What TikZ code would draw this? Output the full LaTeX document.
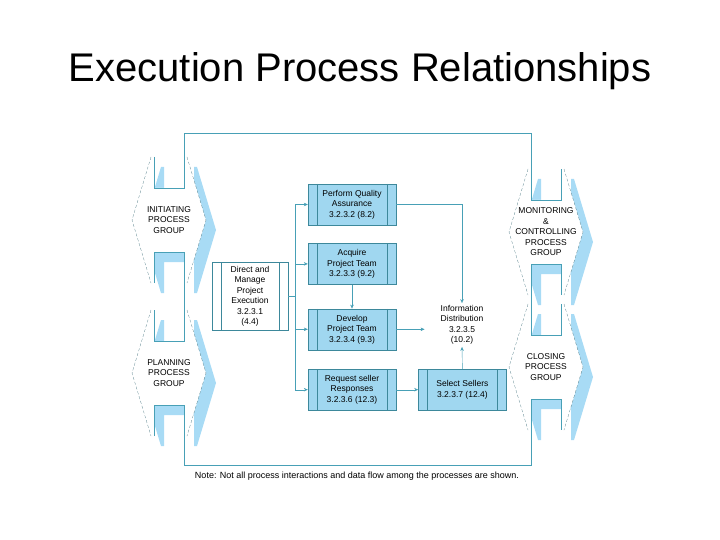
\documentclass[tikz,border=0pt]{standalone}
\usepackage{fontspec}
\setmainfont{Liberation Sans}
\usetikzlibrary{arrows.meta, positioning, calc}

\definecolor{linecol}{RGB}{72,160,182}
\definecolor{boxfill}{RGB}{160,215,240}
\definecolor{shadowblue}{RGB}{168,219,245}

% outline of a process group (hexagon with a notch at top and bottom)
\newcommand{\grouppath}{(-37,0) -- (-18,-63) -- (-15,-63) -- (-15,-32) -- (15,-32) -- (15,-63)
  -- (18,-63) -- (37,0) -- (18,63) -- (15,63) -- (15,32) -- (-15,32) -- (-15,63) -- (-18,63) -- cycle}

\tikzset{
  pics/pgroup/.style={code={
      \fill[shadowblue, shift={(10,10)}] \grouppath;
      \fill[white] \grouppath;
      \draw[linecol!60!black, densely dashed, very thin] (-18,-63) -- (-37,0) -- (-18,63)
        (18,-63) -- (37,0) -- (18,63);
      \draw[linecol] (-15,-63) -- (-15,-32) -- (15,-32) -- (15,-63)
        (-15,63) -- (-15,32) -- (15,32) -- (15,63);
      \coordinate (-tl) at (-15,-32);
      \coordinate (-tr) at (15,-32);
      \coordinate (-bl) at (-15,32);
      \coordinate (-br) at (15,32);
      \node[grouptext] (-txt) {#1};
    }},
  grouptext/.style={font=\fontsize{8.5}{10.5}\selectfont, align=center, inner sep=0pt},
  procbox/.style={draw=linecol!85!black, fill=boxfill, minimum width=88pt, minimum height=41pt,
    inner sep=1pt, align=center, font=\fontsize{8.5}{10.5}\selectfont,
    path picture={
      \draw[linecol!85!black] ([xshift=9pt]path picture bounding box.north west)
        -- ([xshift=9pt]path picture bounding box.south west);
      \draw[linecol!85!black] ([xshift=-9pt]path picture bounding box.north east)
        -- ([xshift=-9pt]path picture bounding box.south east);
    }},
  frame/.style={draw=linecol, thin},
  arr/.style={draw=linecol, thin, -{Stealth[length=4pt, width=3.5pt]}}
}

\begin{document}
\begin{tikzpicture}[x=1pt, y=-1pt]
  \useasboundingbox (0,0) rectangle (720,540);

  \node[anchor=base, font=\fontsize{40}{48}\selectfont] (title) at (360,82) {Execution Process Relationships};

  % process groups
  \pic (ini) at (169,220) {pgroup={INITIATING\\PROCESS\\GROUP}};
  \pic (pln) at (169,373) {pgroup={PLANNING\\PROCESS\\GROUP}};
  \pic (mon) at (546,232) {pgroup={MONITORING\\\&\\CONTROLLING\\PROCESS\\GROUP}};
  \pic (clo) at (546,367) {pgroup={CLOSING\\PROCESS\\GROUP}};

  % frame through the groups
  \draw[frame] (ini-tr) -- (ini-tr |- 0,133) -- (mon-tl |- 0,133) -- (mon-tl);
  \draw[frame] (mon-bl) -- (clo-tl);
  \draw[frame] (clo-bl) -- (clo-bl |- 0,465) -- (pln-br |- 0,465) -- (pln-br);
  \draw[frame] (pln-tr) -- (ini-br);

  % execution processes
  \node[procbox] (pqa) at (352,204.5) {Perform Quality\\Assurance\\3.2.3.2 (8.2)};
  \node[procbox, below=18pt of pqa] (apt) {Acquire\\Project Team\\3.2.3.3 (9.2)};
  \node[procbox, below=24pt of apt] (dpt) {Develop\\Project Team\\3.2.3.4 (9.3)};
  \node[procbox, below=19pt of dpt] (rsr) {Request seller\\Responses\\3.2.3.6 (12.3)};
  \node[procbox, right=22pt of rsr] (sel) {Select Sellers\\3.2.3.7 (12.4)};
  \node[procbox, fill=white, minimum width=76pt, minimum height=68pt] (dme) at (250,296.5)
    {Direct and\\Manage\\Project\\Execution\\3.2.3.1\\(4.4)};
  \node[grouptext, inner sep=2pt] (info) at (462,325) {Information\\Distribution\\3.2.3.5\\(10.2)};

  % connections
  \coordinate (bus) at (295,296.5);
  \draw[frame] (dme.east) -- (bus);
  \draw[frame] (bus |- pqa.west) -- (bus |- rsr.west);
  \foreach \n in {pqa, apt, dpt, rsr}
    \draw[arr] (bus |- \n.west) -- (\n.west);
  \draw[arr] (pqa.east) -| (info.north);
  \draw[arr] (apt) -- (dpt);
  \draw[arr, shorten >=14pt] (dpt.east) -- (dpt.east -| info.west);
  \draw[arr] (rsr) -- (sel);
  \draw[arr] (sel.north) -- (info.south);

  \node[font=\fontsize{9}{11}\selectfont] (note) at (357,476)
    {Note: Not all process interactions and data flow among the processes are shown.};
\end{tikzpicture}
\end{document}
